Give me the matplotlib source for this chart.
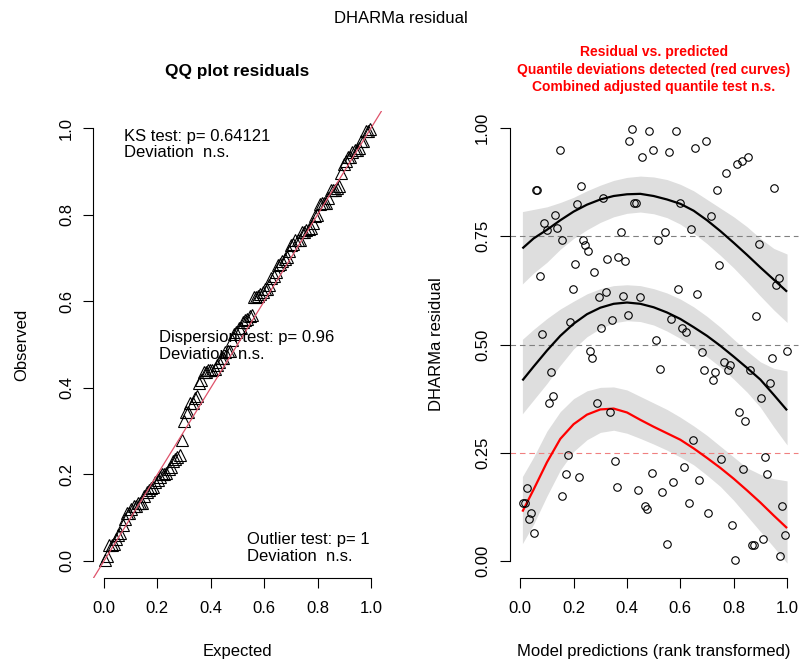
import numpy as np
import matplotlib.pyplot as plt

plt.rcParams['font.family'] = ['Liberation Sans', 'DejaVu Sans']

# scaled residuals against rank transformed predictions
pred = [0.009, 0.018, 0.024, 0.031, 0.041, 0.050, 0.058, 0.064, 0.074, 0.083,
        0.090, 0.100, 0.106, 0.114, 0.123, 0.131, 0.139, 0.149, 0.156, 0.158,
        0.171, 0.179, 0.187, 0.196, 0.205, 0.214, 0.221, 0.229, 0.236, 0.241,
        0.253, 0.261, 0.270, 0.277, 0.288, 0.296, 0.303, 0.311, 0.320, 0.325,
        0.336, 0.344, 0.354, 0.361, 0.367, 0.376, 0.385, 0.394, 0.402, 0.409,
        0.418, 0.428, 0.434, 0.442, 0.450, 0.457, 0.468, 0.476, 0.483, 0.493,
        0.499, 0.508, 0.516, 0.525, 0.532, 0.543, 0.550, 0.558, 0.565, 0.574,
        0.583, 0.590, 0.599, 0.605, 0.614, 0.621, 0.631, 0.639, 0.648, 0.655,
        0.664, 0.671, 0.680, 0.689, 0.696, 0.705, 0.714, 0.721, 0.730, 0.738,
        0.745, 0.754, 0.763, 0.770, 0.778, 0.787, 0.795, 0.804, 0.811, 0.819,
        0.830, 0.836, 0.844, 0.853, 0.862, 0.869, 0.876, 0.885, 0.894, 0.901,
        0.910, 0.917, 0.926, 0.935, 0.944, 0.951, 0.959, 0.969, 0.975, 0.982,
        0.991, 1.000]
resid = [0.135, 0.135, 0.169, 0.096, 0.111, 0.064, 0.858, 0.858, 0.658, 0.524,
         0.780, 0.765, 0.365, 0.436, 0.381, 0.800, 0.770, 0.949, 0.741, 0.149,
         0.200, 0.244, 0.553, 0.628, 0.685, 0.825, 0.193, 0.866, 0.742, 0.729,
         0.717, 0.484, 0.468, 0.668, 0.365, 0.609, 0.537, 0.838, 0.621, 0.697,
         0.344, 0.557, 0.232, 0.172, 0.703, 0.760, 0.613, 0.693, 0.568, 0.969,
         0.997, 0.828, 0.828, 0.163, 0.609, 0.933, 0.128, 0.120, 0.993, 0.204,
         0.949, 0.510, 0.741, 0.444, 0.160, 0.760, 0.039, 0.945, 0.560, 0.183,
         0.993, 0.628, 0.828, 0.537, 0.216, 0.529, 0.135, 0.766, 0.280, 0.953,
         0.616, 0.188, 0.483, 0.440, 0.969, 0.111, 0.797, 0.417, 0.436, 0.858,
         0.684, 0.236, 0.460, 0.897, 0.440, 0.453, 0.084, 0.003, 0.917, 0.343,
         0.925, 0.212, 0.324, 0.933, 0.440, 0.036, 0.036, 0.565, 0.733, 0.376,
         0.051, 0.240, 0.200, 0.412, 0.468, 0.862, 0.637, 0.653, 0.011, 0.128,
         0.060, 0.484]

# quantile regression fits with confidence bands
q_x = [0.008, 0.05, 0.10, 0.15, 0.20, 0.25, 0.30, 0.35, 0.40, 0.45, 0.50,
       0.55, 0.60, 0.65, 0.70, 0.75, 0.80, 0.85, 0.90, 0.95, 1.00]
q75 = [0.722, 0.745, 0.765, 0.787, 0.807, 0.823, 0.835, 0.843, 0.847, 0.848, 0.843,
       0.835, 0.825, 0.809, 0.787, 0.762, 0.735, 0.707, 0.678, 0.650, 0.622]
q75_hi = [0.807, 0.812, 0.818, 0.828, 0.840, 0.855, 0.868, 0.879, 0.886, 0.889, 0.887,
          0.881, 0.870, 0.855, 0.835, 0.815, 0.795, 0.772, 0.745, 0.722, 0.709]
q75_lo = [0.640, 0.665, 0.690, 0.720, 0.745, 0.765, 0.782, 0.795, 0.803, 0.806, 0.802,
          0.793, 0.778, 0.757, 0.733, 0.706, 0.677, 0.645, 0.612, 0.580, 0.551]
q50 = [0.417, 0.449, 0.486, 0.520, 0.548, 0.570, 0.585, 0.594, 0.597, 0.594, 0.586,
       0.574, 0.559, 0.540, 0.520, 0.497, 0.472, 0.446, 0.419, 0.384, 0.348]
q50_hi = [0.512, 0.535, 0.560, 0.582, 0.600, 0.617, 0.629, 0.636, 0.638, 0.636, 0.629,
          0.619, 0.605, 0.587, 0.565, 0.540, 0.512, 0.485, 0.460, 0.445, 0.439]
q50_lo = [0.340, 0.372, 0.410, 0.452, 0.490, 0.518, 0.537, 0.550, 0.555, 0.553, 0.545,
          0.531, 0.514, 0.494, 0.472, 0.448, 0.420, 0.390, 0.355, 0.310, 0.268]
q25 = [0.114, 0.165, 0.228, 0.282, 0.316, 0.338, 0.350, 0.352, 0.343, 0.326, 0.310,
       0.295, 0.280, 0.260, 0.238, 0.215, 0.190, 0.163, 0.135, 0.105, 0.076]
q25_hi = [0.195, 0.240, 0.300, 0.345, 0.375, 0.393, 0.401, 0.402, 0.395, 0.380, 0.365,
          0.350, 0.332, 0.312, 0.290, 0.265, 0.240, 0.215, 0.200, 0.190, 0.185]
q25_lo = [0.040, 0.085, 0.150, 0.210, 0.253, 0.280, 0.297, 0.302, 0.295, 0.283, 0.270,
          0.256, 0.240, 0.222, 0.198, 0.172, 0.140, 0.104, 0.068, 0.032, -0.005]

quantiles = [0.25, 0.5, 0.75]
quantile_sig = [True, False, False]

ks_text = "KS test: p= 0.64121\nDeviation  n.s."
disp_text = "Dispersion test: p= 0.96\nDeviation  n.s."
outl_text = "Outlier test: p= 1\nDeviation  n.s."
right_title = ["Residual vs. predicted",
               "Quantile deviations detected (red curves)",
               "Combined adjusted quantile test n.s."]

observed = np.sort(resid)
n = len(observed)
expected = (np.arange(n) + 0.5) / n


def r_axes(ax):
    ax.set_xlim(-0.04, 1.04)
    ax.set_ylim(-0.04, 1.04)
    for s in ['top', 'right']:
        ax.spines[s].set_visible(False)
    for s in ['left', 'bottom']:
        ax.spines[s].set_bounds(0, 1)
        ax.spines[s].set_linewidth(0.8)
    ax.tick_params(length=7, width=0.8, labelsize=12)
    ax.tick_params(axis='x', pad=9)
    ax.tick_params(axis='y', pad=7)


fig = plt.figure(figsize=(7.99, 6.67), dpi=100)
ax1 = fig.add_axes([0.1168, 0.1330, 0.3609, 0.7010])
ax2 = fig.add_axes([0.6378, 0.1330, 0.3606, 0.7010])

# QQ plot
ax1.plot(expected, observed, linestyle='none', marker='^', ms=8,
         mfc='none', mec='black', mew=0.8)
ax1.axline((0, 0), (1, 1), color='#DF536B', lw=0.9)
r_axes(ax1)
ticks = [0, 0.2, 0.4, 0.6, 0.8, 1.0]
ax1.set_xticks(ticks, ['%.1f' % t for t in ticks])
ax1.set_yticks(ticks, ['%.1f' % t for t in ticks])
plt.setp(ax1.get_yticklabels(), rotation=90, va='center')
ax1.text(0.076, 0.962, ks_text, fontsize=12, va='center', linespacing=1.15)
ax1.text(0.205, 0.496, disp_text, fontsize=12, va='center', linespacing=1.15)
ax1.text(0.537, 0.0295, outl_text, fontsize=12, va='center', linespacing=1.15)
ax1.text(0.5, 1.083, "QQ plot residuals", transform=ax1.transAxes,
         ha='center', va='center', fontsize=12.4, fontweight='bold')
ax1.set_xlabel("Expected", fontsize=12)
ax1.set_ylabel("Observed", fontsize=12)
ax1.xaxis.set_label_coords(0.5, -0.1576)
ax1.xaxis.label.set_verticalalignment('center')
ax1.yaxis.set_label_coords(-0.247, 0.5)
ax1.yaxis.label.set_verticalalignment('center')

# residual vs predicted
bands = [(q25_lo, q25_hi, q25), (q50_lo, q50_hi, q50), (q75_lo, q75_hi, q75)]
for (lo, hi, mid), sig in zip(bands, quantile_sig):
    ax2.fill_between(q_x, lo, hi, color='#DEDEDE', lw=0, zorder=1)
    ax2.plot(q_x, mid, color='red' if sig else 'black', lw=1.6, zorder=3,
             solid_capstyle='butt')
for q, sig in zip(quantiles, quantile_sig):
    ax2.axhline(q, color='#F08080' if sig else '#808080', lw=0.8,
                dashes=(5, 3.5), zorder=2, clip_on=False)
ax2.plot(pred, resid, linestyle='none', marker='o', ms=5.4,
         mfc='none', mec='black', mew=0.8, zorder=4)
r_axes(ax2)
ax2.set_xticks(ticks, ['%.1f' % t for t in ticks])
yt = [0, 0.25, 0.5, 0.75, 1.0]
ax2.set_yticks(yt, ['%.2f' % t for t in yt])
plt.setp(ax2.get_yticklabels(), rotation=90, va='center')
for i, line in enumerate(right_title):
    ax2.text(0.5, 1.1255 - i * 0.0374, line, transform=ax2.transAxes,
             ha='center', va='center', fontsize=10, fontweight='bold', color='red')
ax2.set_xlabel("Model predictions (rank transformed)", fontsize=12)
ax2.set_ylabel("DHARMa residual", fontsize=12)
ax2.xaxis.set_label_coords(0.5, -0.1576)
ax2.xaxis.label.set_verticalalignment('center')
ax2.yaxis.set_label_coords(-0.252, 0.5)
ax2.yaxis.label.set_verticalalignment('center')

fig.text(0.502, 0.973, "DHARMa residual", ha='center', va='center', fontsize=12)

fig.savefig("out.png", dpi=100)
